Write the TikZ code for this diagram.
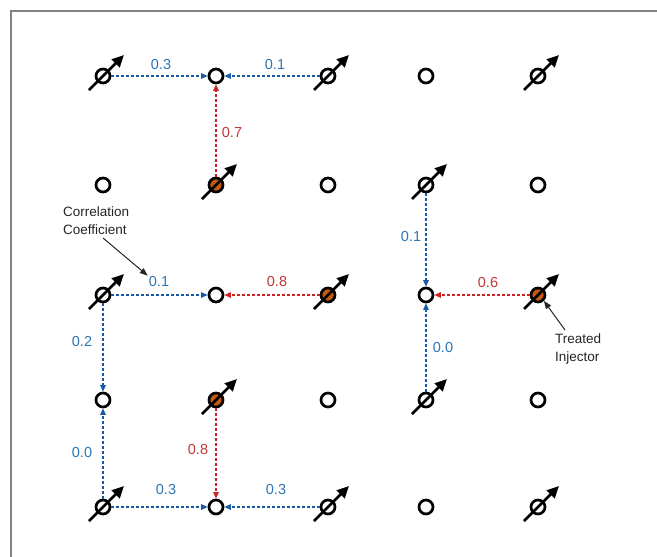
\documentclass[tikz,border=0pt]{standalone}
\usepackage{fontspec}
\setmainfont{Liberation Sans}
\usetikzlibrary{arrows.meta}
\definecolor{lblue}{RGB}{46,117,182}
\definecolor{cblue}{RGB}{25,90,165}
\definecolor{lred}{RGB}{192,55,55}
\definecolor{cred}{RGB}{205,35,35}
\definecolor{treat}{RGB}{197,90,17}
\definecolor{framegray}{RGB}{130,130,130}
\begin{document}
\begin{tikzpicture}[x=1pt,y=-1pt,
 well/.style={circle,draw=black,line width=2.7pt,minimum size=14pt,inner sep=0pt,fill=white},
 treated/.style={well,fill=treat},
 injarrow/.style={line width=2.7pt,-{Triangle[length=12pt,width=11pt]}},
 corr/.style={dash pattern=on 3pt off 2pt,line width=1.1pt,-{Triangle[length=6.5pt,width=5.5pt]}},
 bluec/.style={corr,cblue},
 redc/.style={corr,cred},
 lab/.style={font=\fontsize{14.5}{17}\selectfont,inner sep=1pt},
 bl/.style={lab,text=lblue},
 rl/.style={lab,text=lred},
 note/.style={font=\fontsize{13.5}{18}\selectfont,align=left,text=black!85,inner sep=0pt},
 pointer/.style={line width=1pt,black!85,-{Triangle[length=8pt,width=6pt]}}
]
\useasboundingbox (0,0) rectangle (657,557);
\fill[white] (0,0) rectangle (657,557);
\draw[framegray,line width=2pt] (657,11) -- (11,11) -- (11,557);

% row 1
\node[well] (r1c1) at (103,76) {};
\node[well] (r1c2) at (216,76) {};
\node[well] (r1c3) at (328,76) {};
\node[well] (r1c4) at (426,76) {};
\node[well] (r1c5) at (538,76) {};
% row 2
\node[well] (r2c1) at (103,185) {};
\node[treated] (r2c2) at (216,185) {};
\node[well] (r2c3) at (328,185) {};
\node[well] (r2c4) at (426,185) {};
\node[well] (r2c5) at (538,185) {};
% row 3
\node[well] (r3c1) at (103,295) {};
\node[well] (r3c2) at (216,295) {};
\node[treated] (r3c3) at (328,295) {};
\node[well] (r3c4) at (426,295) {};
\node[treated] (r3c5) at (538,295) {};
% row 4
\node[well] (r4c1) at (103,400) {};
\node[treated] (r4c2) at (216,400) {};
\node[well] (r4c3) at (328,400) {};
\node[well] (r4c4) at (426,400) {};
\node[well] (r4c5) at (538,400) {};
% row 5
\node[well] (r5c1) at (103,507) {};
\node[well] (r5c2) at (216,507) {};
\node[well] (r5c3) at (328,507) {};
\node[well] (r5c4) at (426,507) {};
\node[well] (r5c5) at (538,507) {};

% injector arrows
\foreach \n in {r1c1,r1c3,r1c5,r2c2,r2c4,r3c1,r3c3,r3c5,r4c2,r4c4,r5c1,r5c3,r5c5}
  \draw[injarrow] ([shift={(-14,14)}]\n.center) -- ([shift={(21,-21)}]\n.center);

% correlation connectors
\draw[bluec] (r1c1) -- (r1c2);
\draw[bluec] (r1c3) -- (r1c2);
\draw[redc] (r2c2) -- (r1c2);
\draw[bluec] (r3c1) -- (r3c2);
\draw[redc] (r3c3) -- (r3c2);
\draw[bluec] (r3c1) -- (r4c1);
\draw[bluec] (r5c1) -- (r4c1);
\draw[redc] (r4c2) -- (r5c2);
\draw[bluec] (r5c1) -- (r5c2);
\draw[bluec] (r5c3) -- (r5c2);
\draw[bluec] (r2c4) -- (r3c4);
\draw[bluec] (r4c4) -- (r3c4);
\draw[redc] (r3c5) -- (r3c4);

% labels
\node[bl] (l1) at (161,65) {0.3};
\node[bl] (l2) at (275,65) {0.1};
\node[rl] (l3) at (232,133) {0.7};
\node[bl] (l4) at (159,282) {0.1};
\node[rl] (l5) at (277,282) {0.8};
\node[bl] (l6) at (82,342) {0.2};
\node[bl] (l7) at (82,453) {0.0};
\node[rl] (l8) at (198,450) {0.8};
\node[bl] (l9) at (166,490) {0.3};
\node[bl] (l10) at (276,490) {0.3};
\node[bl] (l11) at (411,237) {0.1};
\node[bl] (l12) at (443,348) {0.0};
\node[rl] (l13) at (488,283) {0.6};

% annotations
\node[note,anchor=west] (cc) at (63,221) {Correlation\\Coefficient};
\coordinate (ccs) at (103,238);
\draw[pointer] (ccs) -- (l4.north west);
\node[note,anchor=west] (ti) at (555,349) {Treated\\Injector};
\coordinate (tis) at (565,330);
\draw[pointer] (tis) -- (r3c5.south east);
\end{tikzpicture}
\end{document}
